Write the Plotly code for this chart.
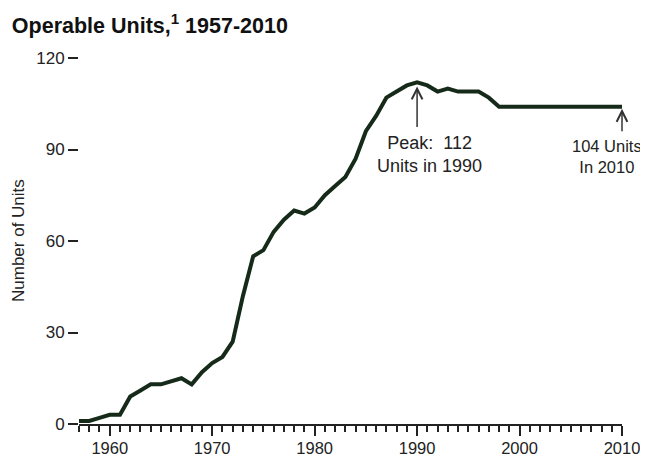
import plotly.graph_objects as go

years = list(range(1957, 2011))
units = [1, 1, 2, 3, 3, 9, 11, 13, 13, 14, 15, 13, 17, 20, 22, 27, 42, 55, 57, 63,
         67, 70, 69, 71, 75, 78, 81, 87, 96, 101, 107, 109, 111, 112, 111, 109, 110,
         109, 109, 109, 107, 104, 104, 104, 104, 104, 104, 104, 104, 104, 104, 104,
         104, 104]
x_tick_vals = [1960, 1970, 1980, 1990, 2000, 2010]
y_tick_vals = [0, 30, 60, 90, 120]

FONT = "Liberation Sans, Arial, sans-serif"
LINE_COLOR = "#152a18"
TXT = "#222222"

fig = go.Figure()
fig.add_trace(go.Scatter(
    x=years, y=units, mode="lines",
    line=dict(color=LINE_COLOR, width=4, shape="linear"),
    cliponaxis=False, hoverinfo="skip", showlegend=False,
))

# page body adds an 8px margin, so the figure is 640x450 to fill the 648x458 window
fig.update_layout(
    width=640, height=450,
    margin=dict(l=71, r=26, t=50, b=34, autoexpand=False),
    paper_bgcolor="white", plot_bgcolor="white",
    font=dict(family=FONT, color=TXT, size=17),
    title=dict(
        text="<b>Operable Units,<sup>1</sup> 1957-2010</b>",
        x=0.006, xref="container", xanchor="left",
        y=0.961, yref="container", yanchor="middle",
        pad=dict(l=0, r=0, t=0, b=0),
        font=dict(family=FONT, size=21.5, color="#111111"),
    ),
    showlegend=False,
)

fig.update_xaxes(
    range=[1957, 2010], automargin=False,
    tickmode="array", tickvals=x_tick_vals,
    ticks="outside", ticklen=10, tickwidth=2, tickcolor="#222222",
    ticklabelstandoff=-2,
    showline=True, linecolor="#222222", linewidth=2,
    showgrid=False, zeroline=False,
    tickfont=dict(size=16.5, color=TXT),
    minor=dict(tick0=1957, dtick=1, ticks="outside", ticklen=6,
               tickwidth=1.5, tickcolor="#222222", showgrid=False),
)
fig.update_yaxes(
    range=[0, 120], automargin=False,
    tickmode="array", tickvals=y_tick_vals,
    ticks="outside", ticklen=10, tickwidth=2, tickcolor="#222222",
    showline=False, showgrid=False, zeroline=False,
    tickfont=dict(size=17, color=TXT),
)

# y-axis title
fig.add_annotation(x=0, y=0.5, xref="paper", yref="paper", text="Number of Units",
                   textangle=-90, showarrow=False, xanchor="center", yanchor="middle",
                   xshift=-61, font=dict(size=17, color=TXT))

peak_year = years[units.index(max(units))]
peak_val = max(units)
end_year = years[-1]
end_val = units[-1]

# Arrows
fig.add_annotation(x=peak_year, y=peak_val, xref="x", yref="y", text="",
                   showarrow=True, arrowhead=5, arrowsize=1.4, arrowwidth=1.5,
                   arrowcolor="#333333", ax=0, ay=46, standoff=4)
fig.add_annotation(x=end_year, y=end_val, xref="x", yref="y", text="",
                   showarrow=True, arrowhead=5, arrowsize=1.4, arrowwidth=1.5,
                   arrowcolor="#333333", ax=0, ay=26, standoff=2)
# Labels
fig.add_annotation(x=peak_year, y=peak_val, xref="x", yref="y",
                   text=f"Peak:  {peak_val}<br>Units in {peak_year}",
                   showarrow=False, xshift=12, yshift=-72, yanchor="middle",
                   align="center", font=dict(size=18, color=TXT))
fig.add_annotation(x=end_year, y=end_val, xref="x", yref="y",
                   text=f"{end_val} Units<br>In {end_year}",
                   showarrow=False, xshift=-15, yshift=-50, yanchor="middle",
                   align="center", font=dict(size=16.5, color=TXT))

fig.write_html("out.html")
